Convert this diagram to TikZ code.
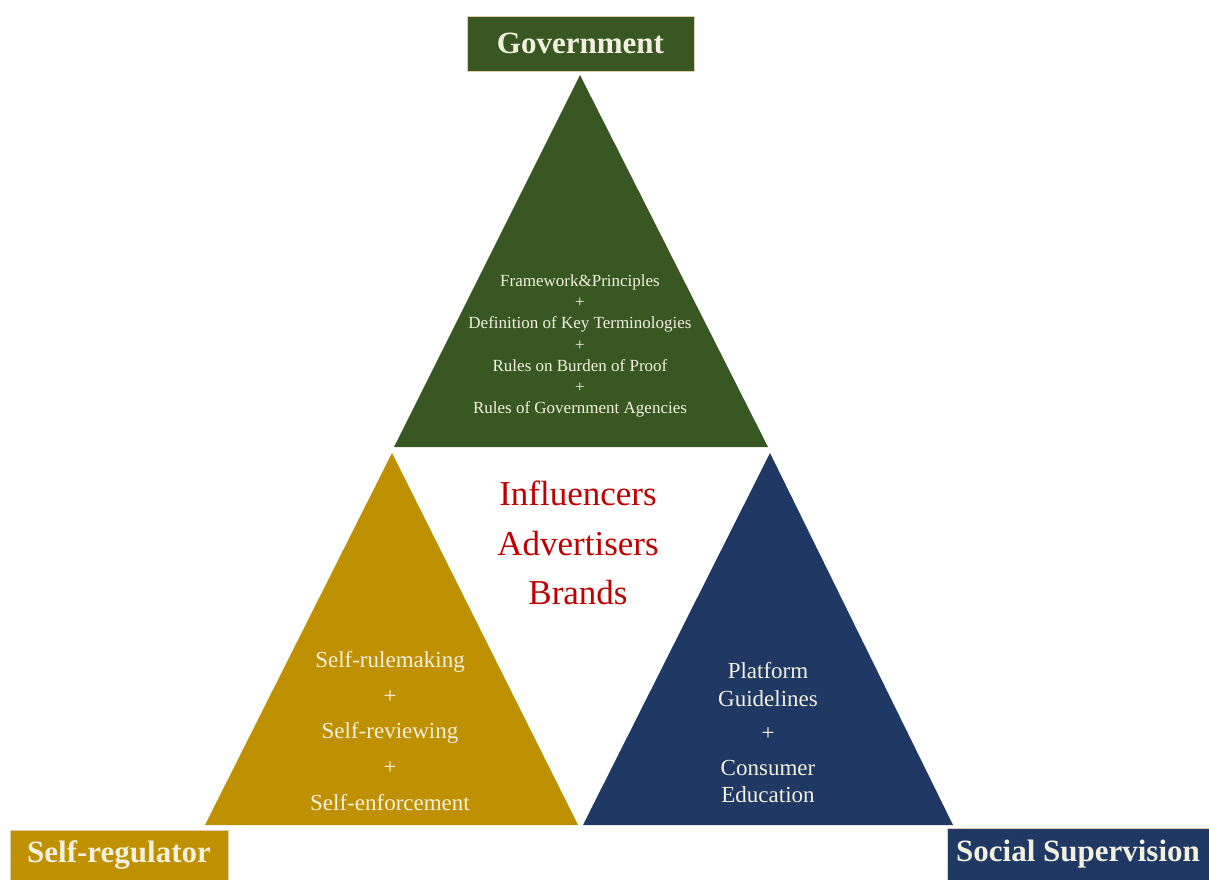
\documentclass[tikz,border=0pt]{standalone}
\usepackage{fontspec}
\setmainfont{Liberation Serif}
\usepackage{xcolor}
\usepackage{tikz}

\definecolor{govgreen}{RGB}{56,87,35}
\definecolor{selfgold}{RGB}{191,144,0}
\definecolor{socblue}{RGB}{31,56,100}
\definecolor{paletext}{RGB}{242,240,222}
\definecolor{actorred}{RGB}{192,0,0}

\tikzset{
  headbox/.style={draw=paletext!70!brown, line width=0.8pt, text=paletext, inner sep=0pt,
    font=\bfseries\fontsize{31}{31}\selectfont},
  tritext/.style={text=paletext, align=center, inner sep=0pt}
}

\begin{document}
\begin{tikzpicture}[x=1pt,y=-1pt]

\useasboundingbox (0,0) rectangle (1209,880);

\fill[govgreen] (580,75) -- (768,447) -- (394,447) -- cycle;
\fill[selfgold] (392,453) -- (578,825) -- (205,825) -- cycle;
\fill[socblue] (770,453) -- (953,825) -- (583,825) -- cycle;

\node[headbox, fill=govgreen, minimum width=227pt, minimum height=55pt] (gov) at (580.5,43.5) {Government};
% bottom boxes run off the lower edge
\node[headbox, fill=selfgold, minimum width=218pt, minimum height=58pt, text depth=14pt] (selfreg) at (119,859) {Self-regulator};
\node[headbox, fill=socblue, minimum width=262pt, minimum height=60pt, text depth=14pt] (social) at (1078,858) {Social Supervision};

\node[tritext, font=\fontsize{17}{21.2}\selectfont] (govtext) at (580,346) {Framework\&Principles\\+\\Definition of Key Terminologies\\+\\Rules on Burden of Proof\\+\\Rules of Government Agencies};

\node[tritext, font=\fontsize{23}{35.8}\selectfont] (selftext) at (390,731) {Self-rulemaking\\+\\Self-reviewing\\+\\Self-enforcement};

\node[tritext, font=\fontsize{23}{27.5}\selectfont] (soctext) at (768,733) {Platform\\Guidelines\\[7pt]+\\[7pt]Consumer\\Education};

\node[text=actorred, align=center, inner sep=0pt, font=\fontsize{35}{49.5}\selectfont] (actors) at (578,543) {Influencers\\Advertisers\\Brands};

\end{tikzpicture}
\end{document}
